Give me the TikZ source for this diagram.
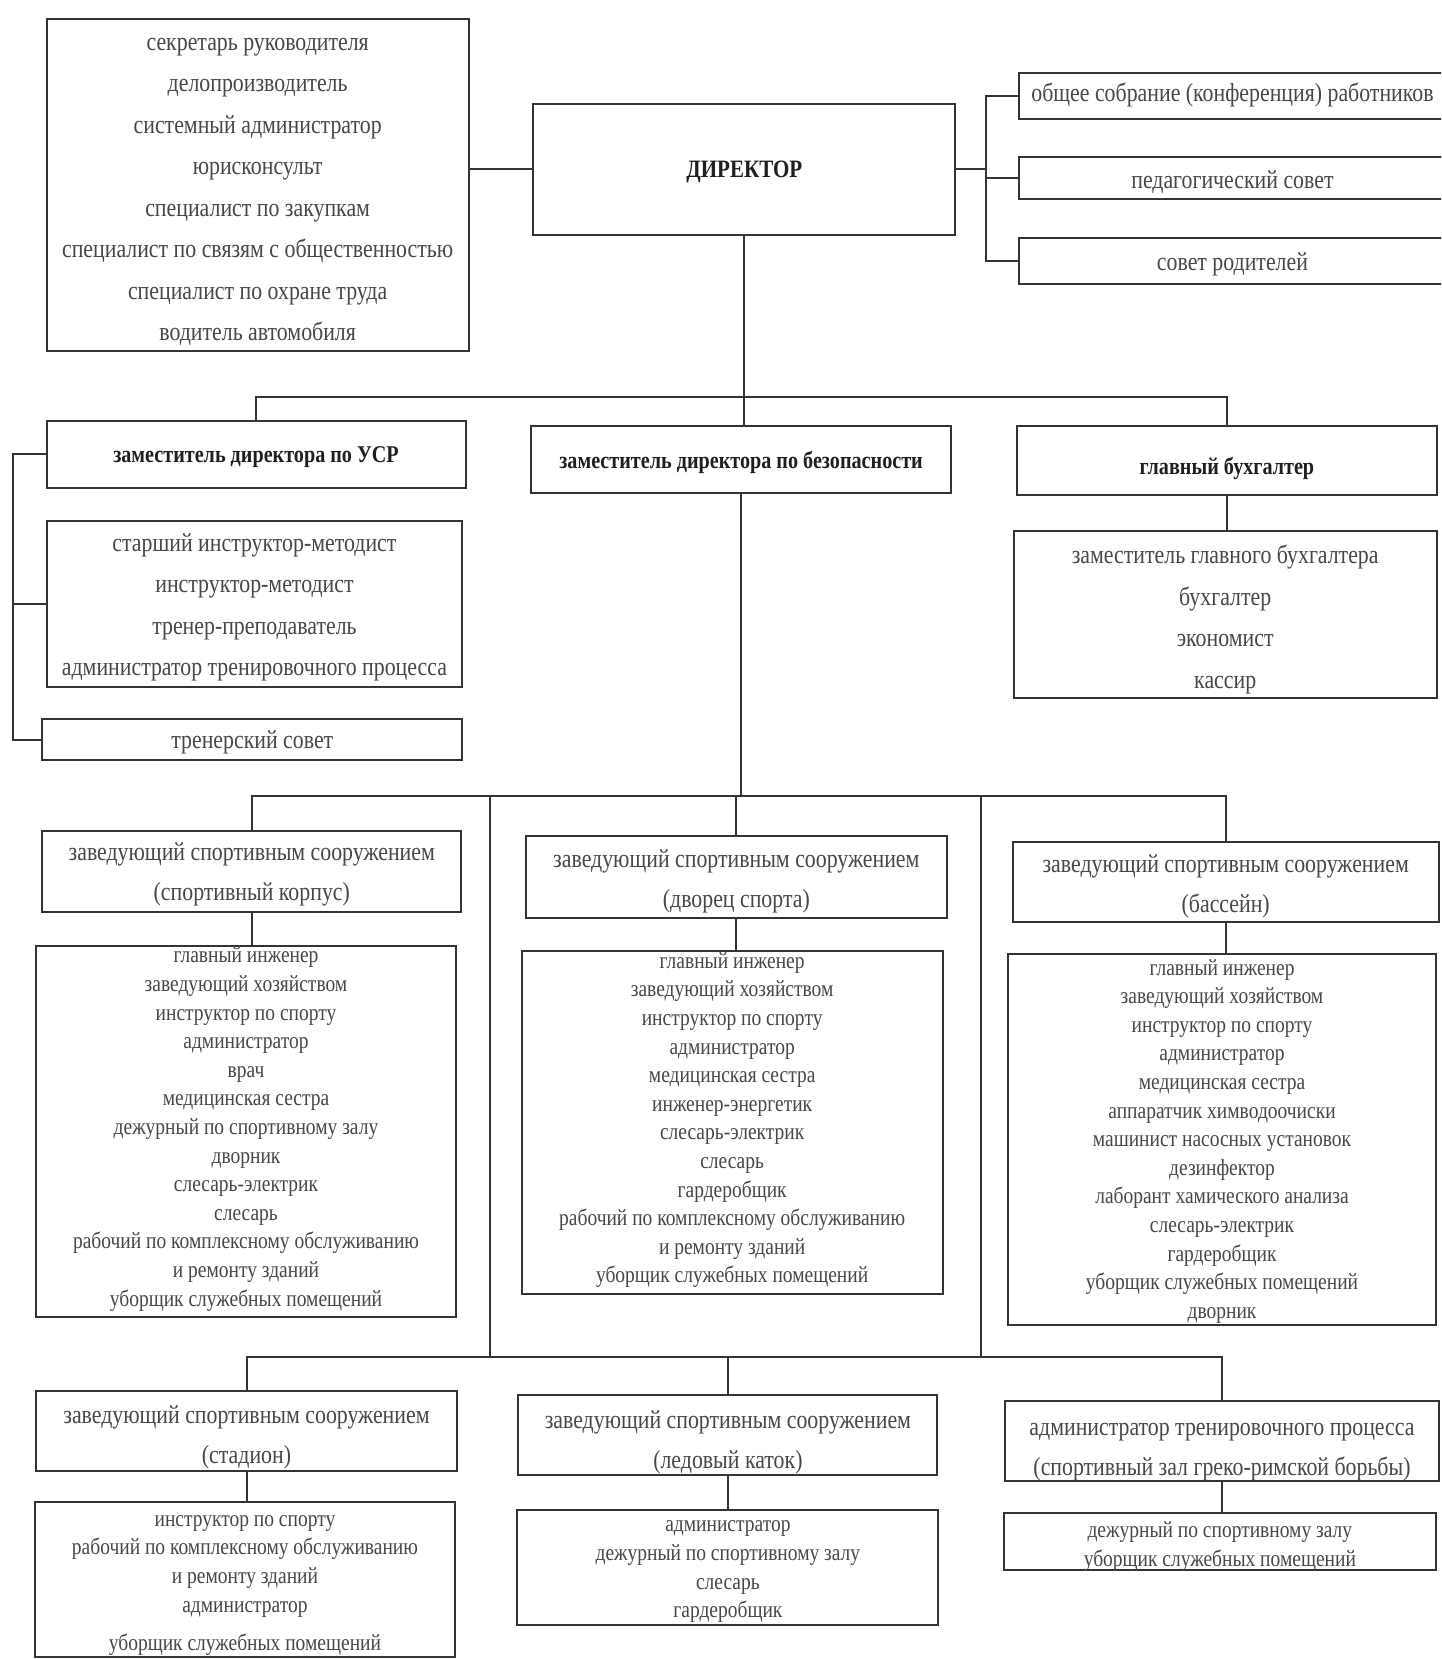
\documentclass[tikz,border=0pt]{standalone}
\usepackage{fontspec}
\setmainfont{Liberation Serif}[FakeStretch=0.84]
\definecolor{linec}{gray}{0.2}
\definecolor{textc}{gray}{0.28}
\definecolor{boldc}{gray}{0.12}
\newsavebox\txtbox
\newcommand\boxtxt[2][0pt]{\sbox\txtbox{\begin{tabular}{@{}c@{}}#2\end{tabular}}\raisebox{-#1}[\ht\txtbox][\dp\txtbox]{\usebox\txtbox}}
\begin{document}
\begin{tikzpicture}[x=0.5pt,y=-0.5pt,
  box/.style={draw=linec, line width=1pt, inner sep=0pt, text=textc},
  rect/.style n args={4}{at={({(#1+#3)/2},{(#2+#4)/2})}, minimum width={(#3-#1)*0.5pt}, minimum height={(#4-#2)*0.5pt}},
  big/.style={font=\fontsize{13}{20.75}\selectfont},
  hdr/.style={font=\fontsize{13}{20}\selectfont},
  small/.style={font=\fontsize{11.6}{14.3}\selectfont},
  bld/.style={font=\fontsize{12}{15}\selectfont\bfseries, text=boldc},
  conn/.style={draw=linec, line width=1pt}]
\useasboundingbox (0,0) rectangle (1441,1659);
\fill[white] (0,0) rectangle (1441,1659);
\clip (0,0) rectangle (1441,1659);

% top level
\node[box, big, rect={46.6}{19}{468.7}{351.3}] (tl) {\boxtxt[1pt]{секретарь руководителя\\делопроизводитель\\системный администратор\\юрисконсульт\\специалист по закупкам\\специалист по связям с общественностью\\специалист по охране труда\\водитель автомобиля}};
\node[box, bld, font=\fontsize{12.5}{15}\selectfont\bfseries, rect={533.2}{103.7}{955.4}{234.9}] (dir) {\boxtxt[1pt]{ДИРЕКТОР}};
\node[box, big, rect={1018.9}{73}{1446}{119}] (obs) {\boxtxt[-1.5pt]{общее собрание (конференция) работников}};
\node[box, big, rect={1018.9}{156.6}{1446}{198.9}] (ped) {\boxtxt[1pt]{педагогический совет}};
\node[box, big, rect={1018.9}{238}{1446}{283.5}] (rod) {\boxtxt[0.5pt]{совет родителей}};

% deputies
\node[box, bld, rect={46.6}{421.1}{465.5}{487.7}] (usr) {\boxtxt[1pt]{заместитель директора по УСР}};
\node[box, bld, rect={531.1}{426.4}{951.1}{493}] (bez) {\boxtxt[1.5pt]{заместитель директора по безопасности}};
\node[box, bld, rect={1016.7}{426.4}{1437}{495.1}] (gb) {\boxtxt[4pt]{главный бухгалтер}};
\node[box, big, rect={46.6}{522.7}{462.3}{685.6}] (usrs) {\boxtxt[0.5pt]{старший инструктор-методист\\инструктор-методист\\тренер-преподаватель\\администратор тренировочного процесса}};
\node[box, big, rect={42.3}{719.4}{462.3}{759.6}] (tren) {\boxtxt[0.5pt]{тренерский совет}};
\node[box, big, rect={1013.6}{531.1}{1436.8}{698.3}] (gbs) {\boxtxt[1.6pt]{заместитель главного бухгалтера\\бухгалтер\\экономист\\кассир}};

% facilities row 1
\node[box, hdr, rect={42.3}{830.5}{461.3}{912}] (k1) {\boxtxt[0.5pt]{заведующий спортивным сооружением\\(спортивный корпус)}};
\node[box, small, rect={36}{945.9}{456}{1317.2}] (k1s) {\boxtxt[-1.4pt]{главный инженер\\заведующий хозяйством\\инструктор по спорту\\администратор\\врач\\медицинская сестра\\дежурный по спортивному залу\\дворник\\слесарь-электрик\\слесарь\\рабочий по комплексному обслуживанию\\и ремонту зданий\\уборщик служебных помещений}};
\node[box, hdr, rect={525.8}{835.8}{946.9}{918.3}] (k2) {\boxtxt[1.3pt]{заведующий спортивным сооружением\\(дворец спорта)}};
\node[box, small, rect={521.6}{952.2}{942.7}{1292.9}] (k2s) {\boxtxt[-1.3pt]{главный инженер\\заведующий хозяйством\\инструктор по спорту\\администратор\\медицинская сестра\\инженер-энергетик\\слесарь-электрик\\слесарь\\гардеробщик\\рабочий по комплексному обслуживанию\\и ремонту зданий\\уборщик служебных помещений}};
\node[box, hdr, rect={1012.5}{843.2}{1438.9}{920.5}] (k3) {\boxtxt[1.5pt]{заведующий спортивным сооружением\\(бассейн)}};
\node[box, small, rect={1008.3}{954.3}{1435.7}{1324.6}] (k3s) {\boxtxt[0.8pt]{главный инженер\\заведующий хозяйством\\инструктор по спорту\\администратор\\медицинская сестра\\аппаратчик химводоочиски\\машинист насосных установок\\дезинфектор\\лаборант хамического анализа\\слесарь-электрик\\гардеробщик\\уборщик служебных помещений\\дворник}};

% facilities row 2
\node[box, hdr, rect={36}{1392.3}{457}{1470.6}] (st) {\boxtxt[2.2pt]{заведующий спортивным сооружением\\(стадион)}};
\node[box, small, rect={34.9}{1502.4}{455}{1657}] (sts) {\boxtxt[1.5pt]{инструктор по спорту\\рабочий по комплексному обслуживанию\\и ремонту зданий\\администратор\\[5pt]уборщик служебных помещений}};
\node[box, hdr, rect={518.4}{1396.6}{937.4}{1472.7}] (led) {\boxtxt[3pt]{заведующий спортивным сооружением\\(ледовый каток)}};
\node[box, small, rect={517.4}{1510.8}{938.4}{1624}] (leds) {\boxtxt[0.8pt]{администратор\\дежурный по спортивному залу\\слесарь\\гардеробщик}};
\node[box, hdr, rect={1005.1}{1401.9}{1438.9}{1479.1}] (adm) {\boxtxt[3.3pt]{администратор тренировочного процесса\\(спортивный зал греко-римской борьбы)}};
\node[box, small, rect={1004}{1513}{1435.7}{1570}] (adms) {\boxtxt[2.5pt]{дежурный по спортивному залу\\уборщик служебных помещений}};

% helper coordinates
\coordinate (rb) at (986,0);
\coordinate (lb) at (12.5,0);
\coordinate (h1) at (0,397);
\coordinate (h2) at (0,796);
\coordinate (h3) at (0,1357.4);
\coordinate (v1a) at (490,796);
\coordinate (v1b) at (490,1357.4);
\coordinate (v2a) at (981,796);
\coordinate (v2b) at (981,1357.4);

% connectors top
\draw[conn] (dir.west) -- (dir.west -| tl.east);
\draw[conn] (dir.east) -- (dir.east -| rb);
\draw[conn] (obs.west) -- (obs.west -| rb) -- (rod.west -| rb) -- (rod.west);
\draw[conn] (ped.west) -- (ped.west -| rb);
\draw[conn] (dir.south) -- (dir.south |- bez.north);
\draw[conn] (usr.north) -- (usr.north |- h1) -- (gb.north |- h1) -- (gb.north);
\draw[conn] (gb.south) -- (gb.south |- gbs.north);
\draw[conn] (usr.west) -- (usr.west -| lb) -- (tren.west -| lb) -- (tren.west);
\draw[conn] (usrs.west) -- (usrs.west -| lb);

% connectors middle
\draw[conn] (bez.south) -- (bez.south |- h2);
\draw[conn] (k1.north) -- (k1.north |- h2) -- (k3.north |- h2) -- (k3.north);
\draw[conn] (k2.north) -- (k2.north |- h2);
\draw[conn] (k1.south) -- (k1.south |- k1s.north);
\draw[conn] (k2.south) -- (k2.south |- k2s.north);
\draw[conn] (k3.south) -- (k3.south |- k3s.north);
\draw[conn] (v1a) -- (v1b);
\draw[conn] (v2a) -- (v2b);

% connectors bottom
\draw[conn] (st.north) -- (st.north |- h3) -- (adm.north |- h3) -- (adm.north);
\draw[conn] (led.north) -- (led.north |- h3);
\draw[conn] (st.south) -- (st.south |- sts.north);
\draw[conn] (led.south) -- (led.south |- leds.north);
\draw[conn] (adm.south) -- (adm.south |- adms.north);
\end{tikzpicture}
\end{document}
